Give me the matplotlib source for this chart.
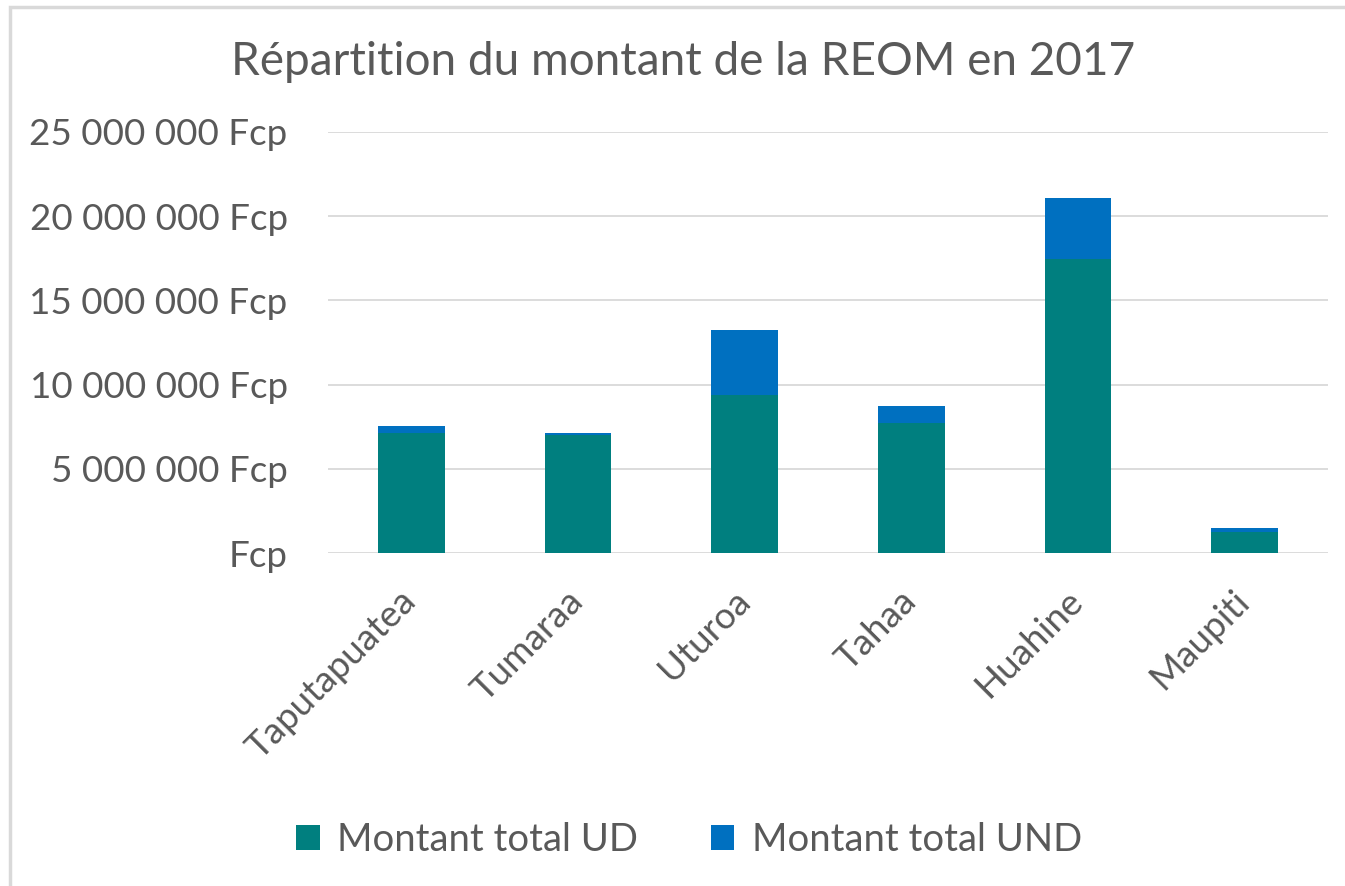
import numpy as np
import matplotlib
matplotlib.use("Agg")
import matplotlib.pyplot as plt
import matplotlib.transforms as mtransforms
from matplotlib.patches import Rectangle
from matplotlib.ticker import FuncFormatter

plt.rcParams['font.family'] = ['Lato', 'DejaVu Sans']

# Données (en Fcp)
communes = ['Taputapuatea', 'Tumaraa', 'Uturoa', 'Tahaa', 'Huahine', 'Maupiti']
montant_ud = [7120000, 7000000, 9370000, 7740000, 17470000, 1280000]
montant_und = [430000, 150000, 3870000, 990000, 3580000, 240000]

teal = '#007F7F'
bleu = '#0070C0'
gris = '#595959'

fig = plt.figure(figsize=(13.45, 8.86), dpi=100)
ax = fig.add_axes([328 / 1345, 1 - 553.3 / 886, 1000 / 1345, 421.6 / 886])

x = np.arange(len(communes))
ax.bar(x, montant_ud, width=0.4, color=teal, label='Montant total UD', zorder=3)
ax.bar(x, montant_und, width=0.4, bottom=montant_ud, color=bleu,
       label='Montant total UND', zorder=3)

ax.set_xlim(-0.5, len(communes) - 0.5)
ax.set_ylim(0, 25000000)
ax.set_yticks(np.arange(0, 25000001, 5000000))


def fmt(v, pos):
    if v == 0:
        return 'Fcp'
    return '{:,.0f} Fcp'.format(v).replace(',', ' ')


ax.yaxis.set_major_formatter(FuncFormatter(fmt))
ax.grid(axis='y', color='#D9D9D9', linewidth=1.3, zorder=0)
for s in ax.spines.values():
    s.set_visible(False)
ax.tick_params(axis='both', length=0, labelsize=26.5, labelcolor=gris)
ax.tick_params(axis='y', pad=29)
ax.tick_params(axis='x', pad=22)

ax.set_xticks(x)
ax.set_xticklabels(communes, rotation=45, ha='right', rotation_mode='anchor')
decal = mtransforms.ScaledTranslation(-12 / 100, 0, fig.dpi_scale_trans)
for lab in ax.get_xticklabels():
    lab.set_transform(lab.get_transform() + decal)

fig.text(683 / 1345, 1 - 62 / 886, 'Répartition du montant de la REOM en 2017',
         ha='center', va='center', fontsize=33, color=gris)

leg = fig.legend(loc='center', bbox_to_anchor=(689 / 1345, 1 - 840 / 886), ncol=2,
                 frameon=False, fontsize=27.5, handlelength=0.62, handleheight=0.62,
                 handletextpad=0.45, columnspacing=1.9)
for t in leg.get_texts():
    t.set_color(gris)

# cadre du graphique
fig.patches.append(Rectangle((10 / 1345, -0.05), 1.1, 1 - 7 / 886 + 0.05,
                             transform=fig.transFigure, fill=False,
                             edgecolor='#D9D9D9', linewidth=2.5))

fig.savefig('out.png', dpi=100)
